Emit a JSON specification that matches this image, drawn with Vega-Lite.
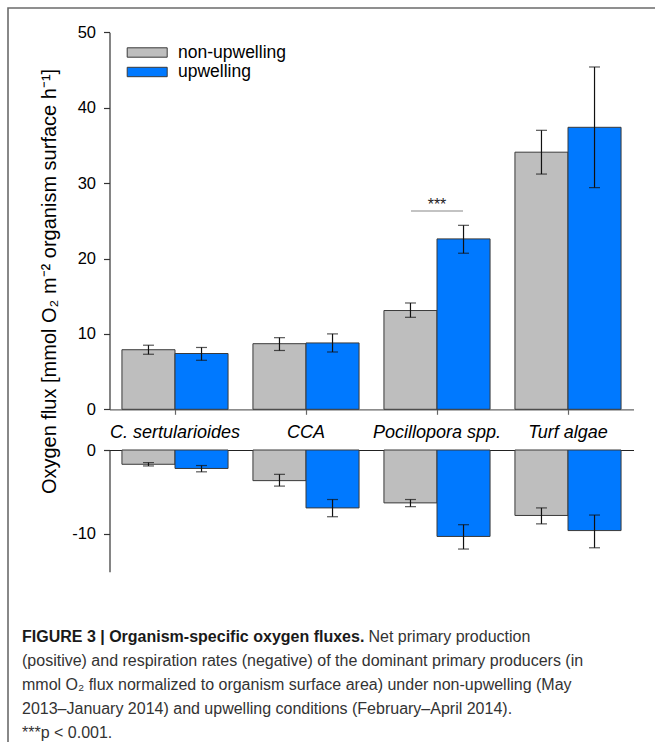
{
  "$schema": "https://vega.github.io/schema/vega-lite/v6.json",
  "width": 651,
  "height": 740,
  "autosize": "none",
  "padding": {"left": 8, "top": 8, "right": -4, "bottom": -6},
  "background": "white",
  "config": {
    "font": "Liberation Sans",
    "view": {"stroke": "#6b6b6b", "strokeWidth": 1.6},
    "axis": {"grid": false, "domainColor": "#333333", "tickColor": "#333333", "labelColor": "#000000", "labelFont": "Liberation Sans", "labelFontSize": 16.5, "tickSize": 6, "domainWidth": 1.2, "tickWidth": 1.2}
  },
  "datasets": {
    "prod": [
      {"organism": "C. sertularioides", "condition": "non-upwelling", "flux": 7.9, "lo": 7.3, "hi": 8.5},
      {"organism": "C. sertularioides", "condition": "upwelling", "flux": 7.4, "lo": 6.5, "hi": 8.2},
      {"organism": "CCA", "condition": "non-upwelling", "flux": 8.7, "lo": 7.8, "hi": 9.5},
      {"organism": "CCA", "condition": "upwelling", "flux": 8.8, "lo": 7.6, "hi": 10.0},
      {"organism": "Pocillopora spp.", "condition": "non-upwelling", "flux": 13.1, "lo": 12.2, "hi": 14.1},
      {"organism": "Pocillopora spp.", "condition": "upwelling", "flux": 22.6, "lo": 20.7, "hi": 24.4},
      {"organism": "Turf algae", "condition": "non-upwelling", "flux": 34.1, "lo": 31.2, "hi": 37.0},
      {"organism": "Turf algae", "condition": "upwelling", "flux": 37.4, "lo": 29.4, "hi": 45.4}
    ],
    "resp": [
      {"organism": "C. sertularioides", "condition": "non-upwelling", "flux": -1.7, "lo": -1.9, "hi": -1.5},
      {"organism": "C. sertularioides", "condition": "upwelling", "flux": -2.2, "lo": -2.6, "hi": -1.85},
      {"organism": "CCA", "condition": "non-upwelling", "flux": -3.65, "lo": -4.3, "hi": -2.9},
      {"organism": "CCA", "condition": "upwelling", "flux": -6.9, "lo": -7.95, "hi": -5.9},
      {"organism": "Pocillopora spp.", "condition": "non-upwelling", "flux": -6.3, "lo": -6.75, "hi": -5.9},
      {"organism": "Pocillopora spp.", "condition": "upwelling", "flux": -10.3, "lo": -11.8, "hi": -8.9},
      {"organism": "Turf algae", "condition": "non-upwelling", "flux": -7.8, "lo": -8.8, "hi": -6.9},
      {"organism": "Turf algae", "condition": "upwelling", "flux": -9.6, "lo": -11.65, "hi": -7.75}
    ],
    "sig": [
      {"organism": "Pocillopora spp.", "y": 26.3, "label": "***"}
    ]
  },
  "title": {
    "text": "FIGURE 3 | Organism-specific oxygen fluxes.",
    "subtitle": [
      "(positive) and respiration rates (negative) of the dominant primary producers (in",
      "mmol O₂ flux normalized to organism surface area) under non-upwelling (May",
      "2013–January 2014) and upwelling conditions (February–April 2014).",
      "***p < 0.001."
    ],
    "orient": "bottom",
    "anchor": "start",
    "frame": "group",
    "offset": -119,
    "dx": 14,
    "font": "Liberation Sans",
    "fontSize": 16,
    "fontWeight": "bold",
    "color": "#1a1a1a",
    "subtitleFont": "Liberation Sans",
    "subtitleFontSize": 16,
    "subtitleColor": "#333333",
    "subtitleLineHeight": 24,
    "subtitlePadding": 8
  },
  "layer": [
    {
      "data": {"name": "prod"},
      "layer": [
        {
          "mark": {"type": "bar", "stroke": "#3a3a3a", "strokeWidth": 1},
          "encoding": {
            "x": {"field": "organism", "type": "nominal", "sort": ["C. sertularioides", "CCA", "Pocillopora spp.", "Turf algae"], "title": null,
                  "scale": {"range": [101.5, 625.5], "paddingInner": 0.19, "paddingOuter": 0.095},
                  "axis": {"orient": "bottom", "offset": -338.7, "labelFontStyle": "italic", "labelFontSize": 18, "labelPadding": 9, "tickSize": 5, "domainColor": "#666666", "tickColor": "#666666", "labelAngle": 0}},
            "xOffset": {"field": "condition", "type": "nominal", "sort": ["non-upwelling", "upwelling"], "scale": {"paddingInner": 0, "paddingOuter": 0}},
            "y": {"field": "flux", "type": "quantitative",
                  "scale": {"domain": [0, 50], "range": [401.3, 24.3], "nice": false},
                  "axis": {"title": "Oxygen flux [mmol O₂ m⁻² organism surface h⁻¹]", "orient": "left", "offset": -101.5, "values": [0, 10, 20, 30, 40, 50], "labelPadding": 8,
                           "titleFontSize": 20, "titleFontWeight": "normal", "titleColor": "#000000", "titleX": -54.5, "titleY": 273, "titleBaseline": "alphabetic", "titleAngle": 270, "titleAlign": "center"}},
            "color": {"field": "condition", "type": "nominal", "sort": ["non-upwelling", "upwelling"],
                      "scale": {"domain": ["non-upwelling", "upwelling"], "range": ["#BEBEBE", "#0079FF"]},
                      "legend": {"title": null, "orient": "none", "legendX": 128.7, "legendY": 34, "padding": 0,
                                 "symbolType": "M-2,-0.47L2,-0.47L2,0.47L-2,0.47Z", "symbolSize": 400,
                                 "symbolStrokeColor": "#3a3a3a", "symbolStrokeWidth": 1, "symbolOpacity": 1,
                                 "labelFontSize": 17.5, "labelColor": "#000000", "labelOffset": 20.3, "rowPadding": 0.5}}
          }
        },
        {
          "mark": {"type": "rule", "color": "#111111", "strokeWidth": 1.2},
          "encoding": {
            "x": {"field": "organism", "type": "nominal", "sort": ["C. sertularioides", "CCA", "Pocillopora spp.", "Turf algae"], "title": null, "scale": {"range": [101.5, 625.5], "paddingInner": 0.19, "paddingOuter": 0.095}},
            "xOffset": {"field": "condition", "type": "nominal", "sort": ["non-upwelling", "upwelling"], "scale": {"paddingInner": 0, "paddingOuter": 0}},
            "y": {"field": "lo", "type": "quantitative", "scale": {"domain": [0, 50], "range": [401.3, 24.3], "nice": false}},
            "y2": {"field": "hi"}
          }
        },
        {
          "mark": {"type": "tick", "color": "#111111", "thickness": 1.2, "size": 11},
          "encoding": {
            "x": {"field": "organism", "type": "nominal", "sort": ["C. sertularioides", "CCA", "Pocillopora spp.", "Turf algae"], "title": null, "scale": {"range": [101.5, 625.5], "paddingInner": 0.19, "paddingOuter": 0.095}},
            "xOffset": {"field": "condition", "type": "nominal", "sort": ["non-upwelling", "upwelling"], "scale": {"paddingInner": 0, "paddingOuter": 0}},
            "y": {"field": "lo", "type": "quantitative", "scale": {"domain": [0, 50], "range": [401.3, 24.3], "nice": false}}
          }
        },
        {
          "mark": {"type": "tick", "color": "#111111", "thickness": 1.2, "size": 11},
          "encoding": {
            "x": {"field": "organism", "type": "nominal", "sort": ["C. sertularioides", "CCA", "Pocillopora spp.", "Turf algae"], "title": null, "scale": {"range": [101.5, 625.5], "paddingInner": 0.19, "paddingOuter": 0.095}},
            "xOffset": {"field": "condition", "type": "nominal", "sort": ["non-upwelling", "upwelling"], "scale": {"paddingInner": 0, "paddingOuter": 0}},
            "y": {"field": "hi", "type": "quantitative", "scale": {"domain": [0, 50], "range": [401.3, 24.3], "nice": false}}
          }
        },
        {
          "data": {"name": "sig"},
          "mark": {"type": "tick", "color": "#555555", "thickness": 1, "size": 52},
          "encoding": {
            "x": {"field": "organism", "type": "nominal", "sort": ["C. sertularioides", "CCA", "Pocillopora spp.", "Turf algae"], "title": null, "scale": {"range": [101.5, 625.5], "paddingInner": 0.19, "paddingOuter": 0.095}},
            "y": {"field": "y", "type": "quantitative", "scale": {"domain": [0, 50], "range": [401.3, 24.3], "nice": false}}
          }
        },
        {
          "data": {"name": "sig"},
          "mark": {"type": "text", "baseline": "alphabetic", "align": "center", "dy": -1, "fontSize": 16, "color": "#222222"},
          "encoding": {
            "x": {"field": "organism", "type": "nominal", "sort": ["C. sertularioides", "CCA", "Pocillopora spp.", "Turf algae"], "title": null, "scale": {"range": [101.5, 625.5], "paddingInner": 0.19, "paddingOuter": 0.095}},
            "y": {"field": "y", "type": "quantitative", "scale": {"domain": [0, 50], "range": [401.3, 24.3], "nice": false}},
            "text": {"field": "label"}
          }
        }
      ]
    },
    {
      "data": {"name": "resp"},
      "layer": [
        {
          "mark": {"type": "bar", "stroke": "#3a3a3a", "strokeWidth": 1},
          "encoding": {
            "x": {"field": "organism", "type": "nominal", "sort": ["C. sertularioides", "CCA", "Pocillopora spp.", "Turf algae"],
                  "scale": {"range": [101.5, 625.5], "paddingInner": 0.19, "paddingOuter": 0.095},
                  "axis": {"title": "Net primary production", "orient": "top", "offset": -442, "labels": false, "ticks": false, "domainColor": "#222222",
                           "titleX": 360, "titleY": 191.6, "titleAlign": "left", "titleAnchor": "start", "titleBaseline": "alphabetic", "titleAngle": 0,
                           "titleFont": "Liberation Sans", "titleFontSize": 16, "titleFontWeight": "normal", "titleColor": "#333333"}},
            "xOffset": {"field": "condition", "type": "nominal", "sort": ["non-upwelling", "upwelling"], "scale": {"paddingInner": 0, "paddingOuter": 0}},
            "y": {"field": "flux", "type": "quantitative",
                  "scale": {"domain": [-14.5, 0], "range": [563.7, 442], "nice": false},
                  "axis": {"title": null, "orient": "left", "offset": -101.5, "values": [0, -10], "labelPadding": 8, "labelExpr": "datum.value + ''"}},
            "color": {"field": "condition", "type": "nominal", "sort": ["non-upwelling", "upwelling"],
                      "scale": {"domain": ["non-upwelling", "upwelling"], "range": ["#BEBEBE", "#0079FF"]}}
          }
        },
        {
          "mark": {"type": "rule", "color": "#111111", "strokeWidth": 1.2},
          "encoding": {
            "x": {"field": "organism", "type": "nominal", "sort": ["C. sertularioides", "CCA", "Pocillopora spp.", "Turf algae"], "scale": {"range": [101.5, 625.5], "paddingInner": 0.19, "paddingOuter": 0.095}},
            "xOffset": {"field": "condition", "type": "nominal", "sort": ["non-upwelling", "upwelling"], "scale": {"paddingInner": 0, "paddingOuter": 0}},
            "y": {"field": "lo", "type": "quantitative", "scale": {"domain": [-14.5, 0], "range": [563.7, 442], "nice": false}},
            "y2": {"field": "hi"}
          }
        },
        {
          "mark": {"type": "tick", "color": "#111111", "thickness": 1.2, "size": 11},
          "encoding": {
            "x": {"field": "organism", "type": "nominal", "sort": ["C. sertularioides", "CCA", "Pocillopora spp.", "Turf algae"], "scale": {"range": [101.5, 625.5], "paddingInner": 0.19, "paddingOuter": 0.095}},
            "xOffset": {"field": "condition", "type": "nominal", "sort": ["non-upwelling", "upwelling"], "scale": {"paddingInner": 0, "paddingOuter": 0}},
            "y": {"field": "lo", "type": "quantitative", "scale": {"domain": [-14.5, 0], "range": [563.7, 442], "nice": false}}
          }
        },
        {
          "mark": {"type": "tick", "color": "#111111", "thickness": 1.2, "size": 11},
          "encoding": {
            "x": {"field": "organism", "type": "nominal", "sort": ["C. sertularioides", "CCA", "Pocillopora spp.", "Turf algae"], "scale": {"range": [101.5, 625.5], "paddingInner": 0.19, "paddingOuter": 0.095}},
            "xOffset": {"field": "condition", "type": "nominal", "sort": ["non-upwelling", "upwelling"], "scale": {"paddingInner": 0, "paddingOuter": 0}},
            "y": {"field": "hi", "type": "quantitative", "scale": {"domain": [-14.5, 0], "range": [563.7, 442], "nice": false}}
          }
        }
      ]
    }
  ],
  "resolve": {"scale": {"x": "independent", "y": "independent"}}
}
